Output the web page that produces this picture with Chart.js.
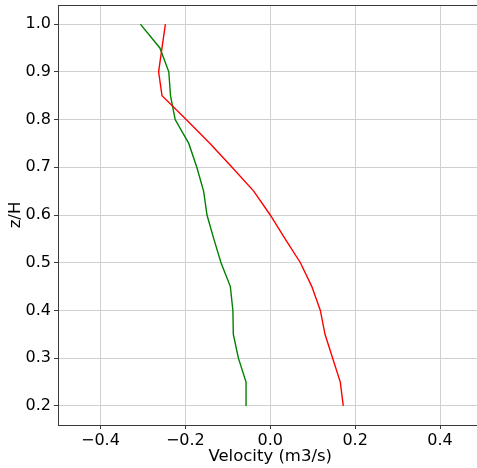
<!DOCTYPE html>
<html>
<head>
<meta charset="utf-8">
<script src="https://cdn.jsdelivr.net/npm/chart.js@4/dist/chart.umd.min.js"></script>
<style>
html,body{margin:0;padding:0;background:#fff;overflow:hidden;}
#wrap{width:484px;height:468px;}
</style>
</head>
<body>
<div id="wrap"><canvas id="c" width="484" height="468"></canvas></div>
<script>
// z/H levels
const zLevels = [0.2,0.25,0.3,0.35,0.4,0.45,0.5,0.55,0.6,0.65,0.7,0.75,0.8,0.85,0.9,0.95,1.0];
// velocity profiles
const redVel = [0.172,0.165,0.147,0.129,0.118,0.098,0.071,0.035,0.0,-0.039,-0.09,-0.142,-0.198,-0.255,-0.263,-0.255,-0.247];
const greenVel = [-0.057,-0.057,-0.075,-0.087,-0.088,-0.094,-0.116,-0.133,-0.149,-0.157,-0.173,-0.192,-0.224,-0.235,-0.239,-0.26,-0.306];
// tick labels
const xTicks = [-0.4,-0.2,0.0,0.2,0.4];
const yTicks = [0.2,0.3,0.4,0.5,0.6,0.7,0.8,0.9,1.0];

const font = {family:'"DejaVu Sans", sans-serif', size:16};
const titleFont = {family:'"DejaVu Sans", sans-serif', size:16.5};
const spine = '#3a3a3a';
const gridC = '#d0d0d0';

const boxPlugin = {
  id:'box',
  afterDraw(chart){
    const a = chart.chartArea, ctx = chart.ctx;
    ctx.save();
    ctx.strokeStyle = spine; ctx.lineWidth = 1;
    ctx.strokeRect(Math.round(a.left)+0.5, Math.round(a.top)+0.5, Math.round(a.right-a.left), Math.round(a.bottom-a.top));
    ctx.restore();
  }
};

new Chart(document.getElementById('c'), {
  type:'scatter',
  data:{
    datasets:[
      {data: zLevels.map((z,i)=>({x:redVel[i], y:z})), borderColor:'#ff0000', backgroundColor:'#ff0000', showLine:true, pointRadius:0, borderWidth:1.4, tension:0},
      {data: zLevels.map((z,i)=>({x:greenVel[i], y:z})), borderColor:'#008000', backgroundColor:'#008000', showLine:true, pointRadius:0, borderWidth:1.4, tension:0}
    ]
  },
  plugins:[boxPlugin],
  options:{
    responsive:false, animation:false,
    layout:{padding:{top:5,right:1.5,left:0,bottom:0}},
    plugins:{legend:{display:false}, tooltip:{enabled:false}},
    scales:{
      x:{
        type:'linear', min:-0.5, max:0.5,
        afterBuildTicks(s){ s.ticks = xTicks.map(v=>({value:v})); },
        afterFit(s){ s.height = 43; s.paddingLeft = 0; s.paddingRight = 0; },
        ticks:{font, color:'#000', padding:2, maxRotation:0,
          callback:(v)=>Number(v).toFixed(1).replace('-','\u2212')},
        grid:{color:gridC, lineWidth:1, tickLength:4, tickColor:spine},
        border:{display:true, color:spine, width:1},
        title:{display:true, text:'Velocity (m3/s)', font:titleFont, color:'#000', padding:{top:0,bottom:1.5}}
      },
      y:{
        type:'linear', min:0.16, max:1.04,
        afterBuildTicks(s){ s.ticks = yTicks.map(v=>({value:v})); },
        afterFit(s){ s.width = 58; s.paddingTop = 0; s.paddingBottom = 0; },
        ticks:{font, color:'#000', padding:3,
          callback:(v)=>Number(v).toFixed(1)},
        grid:{color:gridC, lineWidth:1, tickLength:4, tickColor:spine},
        border:{display:true, color:spine, width:1},
        title:{display:true, text:'z/H', font:titleFont, color:'#000', padding:{top:5.4,bottom:0}}
      }
    }
  }
});
</script>
</body>
</html>
